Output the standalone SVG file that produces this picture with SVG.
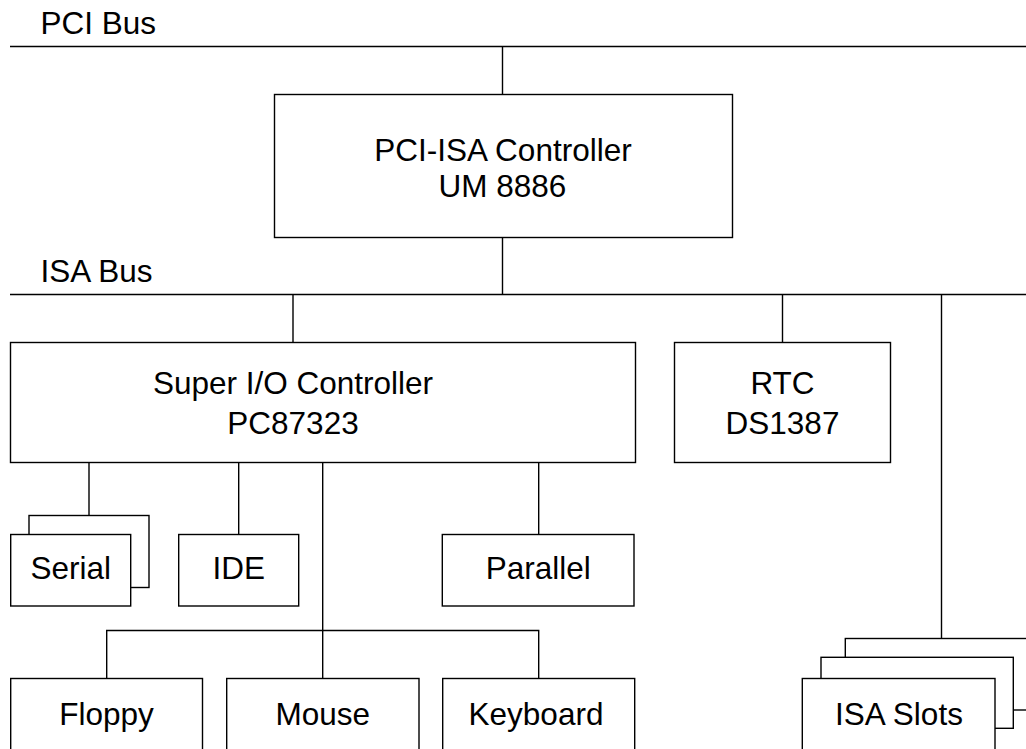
<svg xmlns="http://www.w3.org/2000/svg" width="1026" height="749" viewBox="0 0 1026 749">
<style>
.box{fill:#fff;stroke:#000;stroke-width:1.4}
.ln{fill:none;stroke:#000;stroke-width:1.4}
text{font-family:"Liberation Sans",Arial,sans-serif;font-size:31.5px;fill:#000;text-anchor:middle}
.lbl{text-anchor:start}
</style>
<rect width="1026" height="749" fill="#fff"/>
<g id="buses">
<text class="lbl" x="40.5" y="34">PCI Bus</text>
<text class="lbl" x="40.5" y="282">ISA Bus</text>
</g>
<g id="connectors">
<path class="ln" d="M10 46.5H1026M10 294.5H1026"/>
<path class="ln" d="M502.5 46.5V94.5M502.5 237.5V294.5M293 294.5V342.5M782.5 294.5V342.5M941.5 294.5V638.5"/>
<path class="ln" d="M89 462.5V515.5M238.7 462.5V534.5M322.7 462.5V678.5M538.7 462.5V534.5"/>
<path class="ln" d="M106.7 678.5V630.5H538.7V678.5"/>
</g>
<g id="pci-isa">
<rect class="box" x="274.5" y="94.5" width="458" height="143"/>
<text x="503" y="161">PCI-ISA Controller</text>
<text x="502.5" y="197">UM 8886</text>
</g>
<g id="superio">
<rect class="box" x="10.5" y="342.5" width="625" height="120"/>
<text x="293" y="393.5">Super I/O Controller</text>
<text x="293" y="433.5">PC87323</text>
</g>
<g id="rtc">
<rect class="box" x="674.5" y="342.5" width="216" height="120"/>
<text x="782.5" y="394">RTC</text>
<text x="782.5" y="433.5">DS1387</text>
</g>
<g id="serial">
<rect class="box" x="29" y="515.5" width="120" height="72"/>
<rect class="box" x="10.7" y="534.5" width="120" height="71.5"/>
<text x="70.7" y="579">Serial</text>
</g>
<g id="ide">
<rect class="box" x="178.7" y="534.5" width="120" height="71.5"/>
<text x="238.7" y="579">IDE</text>
</g>
<g id="parallel">
<rect class="box" x="442.3" y="534.5" width="191.7" height="71.5"/>
<text x="538.2" y="579">Parallel</text>
</g>
<g id="floppy">
<rect class="box" x="10.7" y="678.5" width="191.8" height="90"/>
<text x="106.6" y="725">Floppy</text>
</g>
<g id="mouse">
<rect class="box" x="226.7" y="678.5" width="192.3" height="90"/>
<text x="322.8" y="725">Mouse</text>
</g>
<g id="keyboard">
<rect class="box" x="442.7" y="678.5" width="192" height="90"/>
<text x="536" y="725">Keyboard</text>
</g>
<g id="isa-slots">
<rect class="box" x="845.3" y="638.5" width="200" height="71.5"/>
<rect class="box" x="821" y="657.3" width="192.3" height="71"/>
<rect class="box" x="802.3" y="678.5" width="192.7" height="90"/>
<text x="899" y="725">ISA Slots</text>
</g>
</svg>
